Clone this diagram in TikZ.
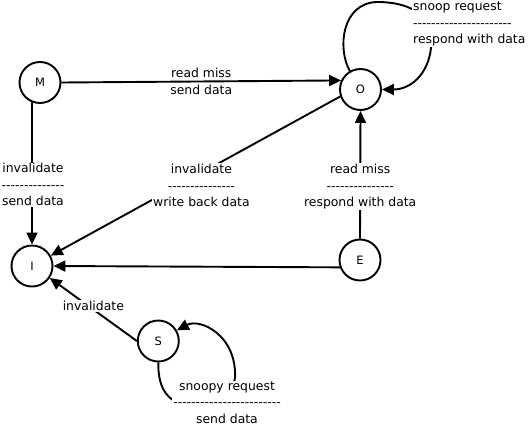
\documentclass[tikz,border=0pt]{standalone}
\usepackage{fontspec}
\setmainfont{DejaVu Sans}[Ligatures=TeXOff]
\usetikzlibrary{arrows.meta}

\begin{document}
\begin{tikzpicture}[x=1pt, y=-1pt,
		state/.style={draw, circle, line width=1.9pt, minimum size=41pt, inner sep=0pt, font=\fontsize{11.5}{13}\selectfont},
		arr/.style={line width=1.9pt, -{Triangle[length=12pt, width=11pt]}},
		lbl/.style={fill=white, inner sep=1pt, align=center, font=\fontsize{12.4}{16.5}\selectfont}]

				\useasboundingbox (0,0) rectangle (529,426);

				\node [state] (M) at (40, 82.5) {M};
				\node [state] (O) at (360.5, 89.5) {O};
				\node [state] (I) at (32, 266) {I};
				\node [state] (E) at (360, 260) {E};
				\node [state] (S) at (158.3, 341) {S};

				%------
				\draw [arr] (M.east) -- (O.155)
					node [lbl, fill=none, pos=0.5] {read miss\\send data};
				\draw [arr] (M.248.5) -- (I.north)
					node [lbl, pos=0.58, xshift=1pt] {invalidate\\--------------\\send data};
				\draw [arr] (O.199) -- (I.29)
					node [lbl, pos=0.49, xshift=3pt, yshift=-11pt] {invalidate\\---------------\\write back data};
				\draw [arr] (E.north) -- (O.south)
					node [lbl, pos=0.405] {read miss\\---------------\\respond with data};
				\draw [arr] (E.200) -- (I.east);
				\draw [arr] (S.west) -- (I.-34)
					node [lbl, pos=0.5, yshift=3.7pt] {invalidate};

				%------ self loops
				\draw [arr] (O.120) .. controls (337,48) and (342,3) .. (377,2)
					.. controls (395,2) and (410,6) .. (420,14)
					.. controls (430,22) and (433,35) .. (431,48)
					.. controls (428,75) and (410,89.5) .. (O.east);
				\node [lbl, align=left, anchor=west] (snoopO) at (412, 24) {snoop request\\----------------------\\respond with data};

				\draw [arr] (S.south) .. controls (158,385) and (165,397) .. (178,403)
					.. controls (200,405) and (233,395) .. (235,378)
					.. controls (237,335) and (200,318) .. (S.30);
				\node [lbl] (snoopS) at (227, 402.5) {snoopy request\\------------------------\\send data};
		\end{tikzpicture}
\end{document}
